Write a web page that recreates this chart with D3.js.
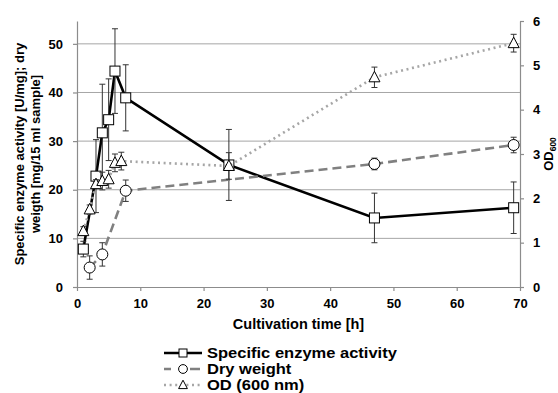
<!DOCTYPE html>
<html>
<head>
<meta charset="utf-8">
<script src="https://cdn.jsdelivr.net/npm/d3@7"></script>
<style>
  body { margin: 0; background: #fff; }
  text { font-family: Arial, "Liberation Sans", sans-serif; font-weight: bold; }
</style>
</head>
<body>
<script>
// cultivation data
const enzTime = [1, 3, 4, 5, 6, 7.7, 24, 47, 69];
const enzVal  = [7.8, 22.8, 31.7, 34.4, 44.4, 38.9, 25.1, 14.2, 16.3];
const enzErr  = [1.6, 7.5, 10, 8.4, 8.7, 6.8, 7.3, 5.1, 5.3];

const dryTime = [2, 4, 7.7, 47, 69];
const dryVal  = [4.0, 6.7, 19.8, 25.3, 29.2];
const dryErr  = [2.4, 2.4, 2.2, 1.2, 1.6];

const odTime = [1, 2, 3, 4, 5, 6, 7, 24, 47, 69];
const odVal  = [1.26, 1.75, 2.32, 2.39, 2.43, 2.8, 2.84, 2.73, 4.73, 5.5];
const odErr  = [0.1, 0.1, 0.1, 0.2, 0.2, 0.2, 0.2, 0.3, 0.23, 0.2];

const xTicks = [0, 10, 20, 30, 40, 50, 60, 70];
const yLeftTicks = [0, 10, 20, 30, 40, 50];
const yRightTicks = [0, 1, 2, 3, 4, 5, 6];

const W = 558, H = 393;
const plot = {left: 77, right: 520, top: 21, bottom: 287};

const svg = d3.select("body").append("svg")
    .attr("width", W)
    .attr("height", H);

const x = d3.scaleLinear().domain([0, 70]).range([plot.left, plot.right]);
const yL = d3.scaleLinear().domain([0, 54.7]).range([plot.bottom, plot.top]);
const yR = d3.scaleLinear().domain([0, 6]).range([plot.bottom, plot.top]);

// gridlines
svg.append("g")
    .selectAll("line")
    .data(yLeftTicks.filter(d => d > 0))
    .enter()
    .append("line")
    .attr("x1", plot.left)
    .attr("x2", plot.right)
    .attr("y1", d => yL(d))
    .attr("y2", d => yL(d))
    .style("stroke", "#a6a6a6")
    .style("stroke-width", 1);

// axes
function styleAxis(g) {
    g.select(".domain").style("stroke", "#8c8c8c").style("stroke-width", 1.2);
    g.selectAll(".tick line").style("stroke", "#8c8c8c").style("stroke-width", 1.2);
    g.selectAll(".tick text")
        .style("font-size", "13px")
        .style("font-weight", "bold")
        .style("fill", "#000");
}

svg.append("g")
    .attr("transform", "translate(0," + plot.bottom + ")")
    .call(d3.axisBottom(x).tickValues(xTicks).tickFormat(d3.format("d")).tickSize(4).tickPadding(8).tickSizeOuter(0))
    .call(styleAxis);

svg.append("g")
    .attr("transform", "translate(" + plot.left + ",0)")
    .call(d3.axisLeft(yL).tickValues(yLeftTicks).tickFormat(d3.format("d")).tickSize(4).tickPadding(10).tickSizeOuter(0))
    .call(styleAxis);

svg.append("g")
    .attr("transform", "translate(" + plot.right + ",0)")
    .call(d3.axisRight(yR).tickValues(yRightTicks).tickFormat(d3.format("d")).tickSize(4).tickPadding(9).tickSizeOuter(0))
    .call(styleAxis);

// axis titles
svg.append("text")
    .attr("x", (plot.left + plot.right) / 2)
    .attr("y", 329)
    .attr("text-anchor", "middle")
    .style("font-size", "14.5px")
    .text("Cultivation time [h]");

const leftTitle = svg.append("text")
    .attr("transform", "translate(0," + ((plot.top + plot.bottom) / 2) + ") rotate(-90)")
    .attr("text-anchor", "middle")
    .style("font-size", "13px");
leftTitle.append("tspan").attr("x", 0).attr("y", 24).text("Specific enzyme activity [U/mg]; dry");
leftTitle.append("tspan").attr("x", 0).attr("y", 40).text("weigth [mg/15 ml sample]");

const rightTitle = svg.append("text")
    .attr("transform", "translate(553," + ((plot.top + plot.bottom) / 2) + ") rotate(-90)")
    .attr("text-anchor", "middle")
    .style("font-size", "13px");
rightTitle.append("tspan").text("OD");
rightTitle.append("tspan").attr("dy", 3).style("font-size", "8.5px").text("600");

// series
const series = [
    {name: "Specific enzyme activity", t: enzTime, v: enzVal, e: enzErr, y: yL,
     color: "#000", width: 2.6, dash: null, legendDash: null, marker: "square"},
    {name: "Dry weight", t: dryTime, v: dryVal, e: dryErr, y: yL,
     color: "#808080", width: 2.6, dash: "9,5", legendDash: "7,19,10", marker: "circle"},
    {name: "OD (600 nm)", t: odTime, v: odVal, e: odErr, y: yR,
     color: "#a6a6a6", width: 2.6, dash: "2,3.6", legendDash: "2,3.6", marker: "triangle"}
];

function drawMarker(g, type, cx, cy, k) {
    if (type === "square") {
        g.append("rect")
            .attr("x", cx - 5 * k).attr("y", cy - 5 * k)
            .attr("width", 10 * k).attr("height", 10 * k)
            .style("fill", "#fff").style("stroke", "#000").style("stroke-width", 1);
    } else if (type === "circle") {
        g.append("circle")
            .attr("cx", cx).attr("cy", cy).attr("r", 5.5 * k)
            .style("fill", "#fff").style("stroke", "#000").style("stroke-width", 1);
    } else {
        g.append("path")
            .attr("d", "M" + cx + "," + (cy - 6 * k) + "L" + (cx + 5.5 * k) + "," + (cy + 4.5 * k) +
                "L" + (cx - 5.5 * k) + "," + (cy + 4.5 * k) + "Z")
            .style("fill", "#fff").style("stroke", "#000").style("stroke-width", 1);
    }
}

series.forEach(function (s) {
    const pts = s.t.map((t, i) => ({t: t, v: s.v[i], e: s.e[i]}));
    const g = svg.append("g");

    g.append("path")
        .datum(pts)
        .attr("d", d3.line().x(d => x(d.t)).y(d => s.y(d.v)))
        .style("fill", "none")
        .style("stroke", s.color)
        .style("stroke-width", s.width)
        .style("stroke-dasharray", s.dash);

    // error bars
    const eb = g.selectAll(".eb").data(pts).enter().append("g");
    eb.append("line")
        .attr("x1", d => x(d.t)).attr("x2", d => x(d.t))
        .attr("y1", d => s.y(d.v - d.e)).attr("y2", d => s.y(d.v + d.e))
        .style("stroke", "#333").style("stroke-width", 1);
    [1, -1].forEach(function (sign) {
        eb.append("line")
            .attr("x1", d => x(d.t) - 3).attr("x2", d => x(d.t) + 3)
            .attr("y1", d => s.y(d.v + sign * d.e)).attr("y2", d => s.y(d.v + sign * d.e))
            .style("stroke", "#333").style("stroke-width", 1);
    });

    pts.forEach(d => drawMarker(g, s.marker, x(d.t), s.y(d.v), 1));
});

// legend (text is a bit wide in the original, so stretch it horizontally)
const legendY = [353, 369, 385];
series.forEach(function (s, i) {
    const g = svg.append("g");
    const ly = legendY[i];
    g.append("line")
        .attr("x1", 164).attr("x2", 202)
        .attr("y1", ly).attr("y2", ly)
        .style("stroke", s.color)
        .style("stroke-width", s.width)
        .style("stroke-dasharray", s.legendDash);
    drawMarker(g, s.marker, 183, ly, 0.8);
    g.append("text")
        .attr("transform", "translate(207," + (ly + 5) + ") scale(1.18,1)")
        .style("font-size", "14px")
        .text(s.name);
});
</script>
</body>
</html>
